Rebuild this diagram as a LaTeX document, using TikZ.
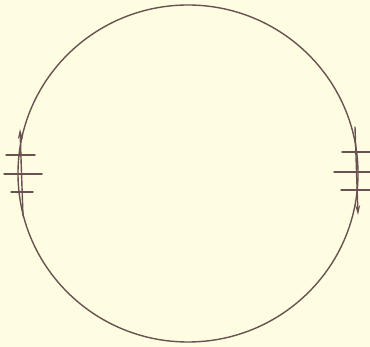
\documentclass[tikz,border=0pt]{standalone}
\usetikzlibrary{arrows.meta}
\definecolor{bg}{HTML}{FEFDE2}
\definecolor{ink}{HTML}{6A5252}
\begin{document}
\begin{tikzpicture}[x=1pt,y=-1pt,
  pen/.style={draw=ink,line width=1.4pt,line cap=round},
  tick/.style={draw=ink,line width=1.5pt,line cap=round}]
\fill[bg] (0,0) rectangle (370,347);
\useasboundingbox (0,0) rectangle (370,347);
\draw[pen] (188,173.5) ellipse [x radius=170, y radius=168.5];
% left arrow
\coordinate (l1) at (23,216);
\coordinate (l2) at (20,129);
\draw[pen,-{Stealth[length=10pt,width=5pt]}] (l1) -- (l2);
\draw[tick] (6,155) -- (35,155);
\draw[tick] (4,174) -- (42,174);
\draw[tick] (11,192) -- (33,192);
% right arrow
\coordinate (r1) at (355,127);
\coordinate (r2) at (358,215);
\draw[pen,-{Stealth[length=10pt,width=5pt]}] (r1) -- (r2);
\draw[tick] (342,152) -- (370,152);
\draw[tick] (334,172) -- (370,172);
\draw[tick] (341,190) -- (370,190);
\end{tikzpicture}
\end{document}
